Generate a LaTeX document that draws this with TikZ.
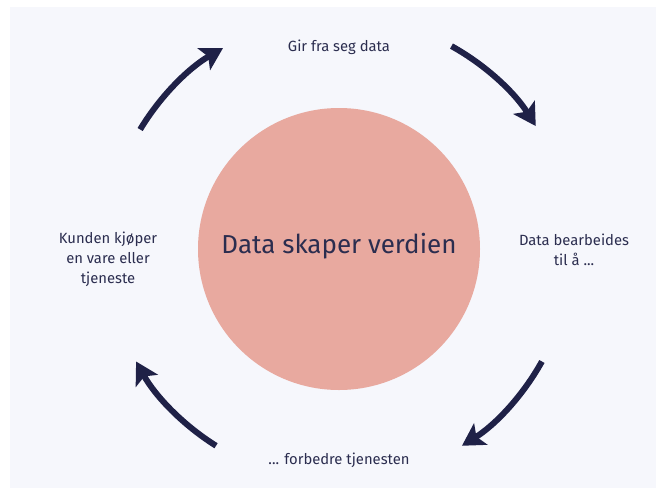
\documentclass[tikz,border=0pt]{standalone}
\usepackage{fontspec}
\setmainfont{Fira Sans}
\usetikzlibrary{arrows.meta}
\definecolor{bgc}{HTML}{F6F7FC}
\definecolor{pinkc}{HTML}{E8A99F}
\definecolor{navy}{HTML}{1F2147}
\definecolor{txt}{HTML}{2B2D4F}
\tikzset{
  cyclearrow/.style={draw=navy, line width=6pt, -{Stealth[length=22pt,width=25pt,inset=5pt]}},
  lbl/.style={text=txt, font=\fontsize{14.8}{20}\selectfont, align=center, inner sep=0pt},
}
\begin{document}
\begin{tikzpicture}[x=1pt,y=-1pt]
\useasboundingbox (0,0) rectangle (662,491);
\fill[white] (0,0) rectangle (662,491);
\fill[bgc] (10,7) rectangle (656,488);
\coordinate (c) at (339,249);
\node[circle, fill=pinkc, minimum size=282pt, inner sep=0pt] (hub) at (c) {};
\node[text=txt, font=\fontsize{26}{30}\selectfont, inner sep=0pt] (title) at (339,246) {Data skaper verdien};
\node[lbl] (top) at (339,47) {Gir fra seg data};
\node[lbl] (right) at (574,250) {Data bearbeides\\til å ...};
\node[lbl] (bottom) at (339,460) {... forbedre tjenesten};
\node[lbl] (left) at (108,259) {Kunden kjøper\\en vare eller\\tjeneste};
% arcs of radius 232 about the hub centre
\draw[cyclearrow] ([shift={(-149:232)}]c) arc[start angle=-149, end angle=-120, radius=232];
\draw[cyclearrow] ([shift={(-61:232)}]c) arc[start angle=-61, end angle=-32, radius=232];
\draw[cyclearrow] ([shift={(29:232)}]c) arc[start angle=29, end angle=58, radius=232];
\draw[cyclearrow] ([shift={(122:232)}]c) arc[start angle=122, end angle=151, radius=232];
\end{tikzpicture}
\end{document}
